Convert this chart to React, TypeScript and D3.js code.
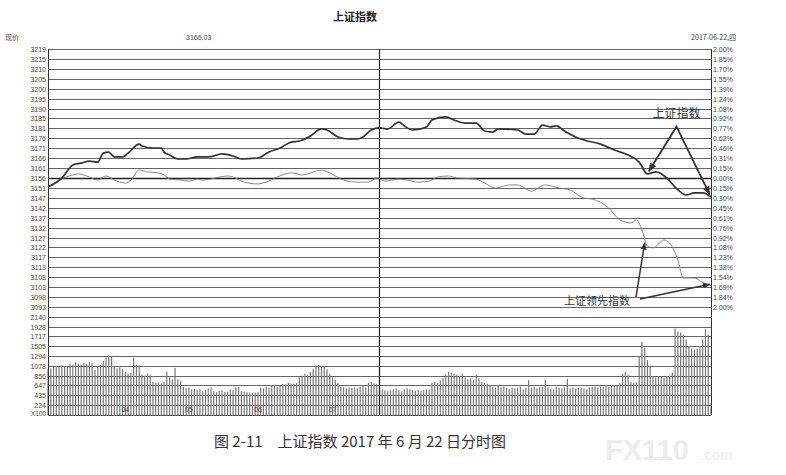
import React from "react";
import * as d3 from "d3";

// previous close, 2017-06-21
const basePrice = 3156.21;

const priceLabels = [
  "3219", "3215", "3210", "3205", "3200", "3195", "3190", "3185", "3181",
  "3176", "3171", "3166", "3161", "3156", "3151", "3147", "3142", "3137",
  "3132", "3127", "3122", "3117", "3113", "3108", "3103", "3098", "3093",
];
const pctLabels = [
  "2.00%", "1.85%", "1.70%", "1.55%", "1.39%", "1.24%", "1.08%", "0.92%", "0.77%",
  "0.62%", "0.46%", "0.31%", "0.15%", "0.00%", "0.15%", "0.30%", "0.45%", "0.61%",
  "0.76%", "0.92%", "1.08%", "1.23%", "1.38%", "1.54%", "1.69%", "1.84%", "2.00%",
];
const volLabels = [2140, 1928, 1717, 1505, 1294, 1078, 856, 647, 435, 224];
const timeLabels = [
  { minute: 28, text: "04" },
  { minute: 51, text: "05" },
  { minute: 76, text: "06" },
  { minute: 103, text: "07" },
];

// 上证指数
const sseMinutes = [
  0, 5, 9, 12, 15, 18, 20, 22, 24, 27, 29, 33, 34, 38, 41, 42, 44, 47, 50, 54,
  58, 63, 67, 70, 76, 80, 84, 88, 91, 95, 99, 101, 105, 109, 112, 114, 117, 120, 123, 127,
  129, 132, 137, 139, 144, 147, 151, 155, 158, 161, 163, 170, 173, 176, 179, 182, 184, 187, 191, 194,
  200, 205, 210, 214, 217, 220, 224, 227, 231, 234, 237, 240,
];
const sseValues = [
  3151.8, 3156.2, 3162.6, 3163.5, 3164.5, 3164.0, 3168.4, 3168.9, 3166.5, 3166.5,
  3168.4, 3172.8, 3171.9, 3170.9, 3170.9, 3168.9, 3167.5, 3165.5, 3165.5, 3166.5,
  3166.5, 3168.0, 3167.0, 3165.5, 3166.0, 3168.9, 3170.9, 3173.8, 3174.3, 3176.8,
  3180.2, 3179.7, 3176.3, 3175.3, 3175.3, 3176.3, 3179.7, 3180.7, 3180.2, 3183.6,
  3181.7, 3179.7, 3181.2, 3184.6, 3186.1, 3184.6, 3183.1, 3183.1, 3179.2, 3178.7,
  3180.2, 3179.7, 3177.7, 3177.7, 3182.1, 3181.2, 3181.7, 3179.2, 3176.3, 3174.8,
  3172.8, 3169.9, 3167.5, 3164.0, 3158.2, 3159.2, 3156.2, 3151.8, 3147.9, 3148.9,
  3148.9, 3146.9,
];

// 上证领先指数
const leadMinutes = [
  0, 4, 9, 11, 15, 18, 21, 24, 28, 30, 33, 36, 40, 42, 44, 48, 51, 54, 56, 65,
  67, 71, 76, 79, 83, 88, 92, 99, 102, 107, 112, 116, 119, 122, 127, 130, 134, 138, 141, 145,
  148, 155, 158, 162, 167, 170, 175, 180, 185, 189, 194, 197, 203, 207, 211, 213, 215, 217, 219, 223,
  225, 228, 230, 234, 236, 240,
];
const leadValues = [
  3151.8, 3155.2, 3157.7, 3158.2, 3156.7, 3155.2, 3157.2, 3155.2, 3153.8, 3155.2,
  3160.1, 3159.2, 3158.7, 3157.7, 3155.7, 3155.2, 3154.7, 3155.7, 3155.2, 3157.2,
  3156.7, 3154.2, 3153.3, 3154.2, 3156.7, 3158.7, 3157.7, 3160.1, 3158.7, 3155.2,
  3154.2, 3154.2, 3156.2, 3154.7, 3155.7, 3155.2, 3154.2, 3154.7, 3156.7, 3157.2,
  3156.2, 3155.7, 3153.8, 3151.3, 3152.8, 3152.8, 3149.8, 3152.8, 3151.3, 3150.3,
  3146.4, 3145.9, 3141.5, 3135.7, 3134.2, 3135.7, 3130.8, 3122.9, 3122.0, 3125.9,
  3124.4, 3116.1, 3107.3, 3107.3, 3105.8, 3103.4,
];

// volume per minute (x100)
const volume = [
  1000, 1020, 1050, 1040, 1060, 1080, 1050, 1070, 1120, 1100,
  1150, 1120, 1100, 1140, 1110, 1160, 1130, 980, 1050, 1100,
  1180, 1260, 1300, 1280, 1060, 1020, 1040, 1000, 940, 900,
  920, 1250, 1100, 1080, 880, 860, 900, 880, 720, 700,
  710, 690, 720, 950, 820, 780, 1030, 780, 740, 620,
  580, 600, 560, 570, 540, 560, 520, 550, 580, 600,
  520, 500, 530, 540, 500, 510, 560, 540, 600, 610,
  520, 510, 500, 490, 480, 490, 500, 600, 580, 620,
  600, 640, 660, 620, 650, 680, 670, 700, 690, 680,
  700, 820, 860, 900, 880, 940, 1000, 1080, 1100, 1060,
  1080, 1000, 900, 820, 760, 700, 620, 600, 580, 600,
  590, 600, 580, 620, 640, 600, 700, 720, 690, 680,
  1700, 560, 540, 520, 540, 560, 580, 540, 520, 560,
  580, 560, 540, 530, 550, 520, 540, 560, 560, 700,
  720, 700, 760, 800, 880, 940, 920, 900, 880, 860,
  900, 820, 780, 800, 760, 880, 800, 720, 700, 680,
  650, 620, 600, 640, 600, 620, 590, 560, 600, 580,
  600, 620, 560, 600, 760, 600, 620, 580, 600, 610,
  770, 600, 580, 560, 620, 600, 580, 600, 790, 580,
  600, 570, 590, 600, 580, 560, 600, 610, 620, 600,
  620, 610, 630, 620, 660, 650, 660, 700, 900, 940,
  880, 720, 700, 710, 1270, 1600, 1470, 1200, 1050, 830,
  820, 840, 830, 820, 840, 860, 920, 1890, 1820, 1800,
  1750, 1650, 1500, 1450, 1430, 1450, 1480, 1650, 1870, 1760,
  260,
];

const W = 786;
const H = 475;
const left = 48;
const right = 711;
const priceTop = 49;
const priceBottom = 307;
const volTop = 317;
const volBottom = 415;

const labelFont = "'Liberation Sans', Arial, sans-serif";
const cjkFont = "'Noto Sans CJK SC', sans-serif";

export default function App() {
  const x = d3.scaleLinear().domain([0, 240]).range([left, right]);
  const y = d3
    .scaleLinear()
    .domain([basePrice * 0.98, basePrice * 1.02])
    .range([priceBottom, priceTop]);
  const yVol = d3.scaleLinear().domain([0, 2140]).range([volBottom, volTop]);

  // gridline rows are spaced evenly between -2% and +2%
  const rowValue = (k: number) => basePrice * (1.02 - (k * 0.04) / 26);

  const indexLine = d3
    .line<[number, number]>()
    .x((d) => x(d[0]))
    .y((d) => y(d[1]))
    .curve(d3.curveMonotoneX);

  const ssePath = indexLine(sseMinutes.map((m, i) => [m, sseValues[i]]));
  const leadPath = indexLine(leadMinutes.map((m, i) => [m, leadValues[i]]));

  // annotation anchors on the data
  const sseApex = { x: x(227.5), y: y(3181.3) };
  const sseTipL = { x: x(217.5), y: y(3159.5) };
  const sseTipR = { x: x(239.5), y: y(3148.2) };
  const leadTipUp = { x: x(216), y: y(3124.5) };
  const leadTipR = { x: x(239.5), y: y(3104.2) };

  return (
    <svg
      width={W}
      height={H}
      style={{ position: "absolute", left: 0, top: 0, background: "#fff" }}
    >
      <defs>
        <marker
          id="arrow"
          viewBox="0 0 10 10"
          refX="9"
          refY="5"
          markerWidth="5"
          markerHeight="5"
          orient="auto-start-reverse"
        >
          <path d="M0,1 L10,5 L0,9 z" fill="#333" />
        </marker>
      </defs>

      {/* title and header */}
      <text
        x={355}
        y={21}
        textAnchor="middle"
        fontFamily={cjkFont}
        fontWeight="bold"
        fontSize={11}
        fill="#222"
      >
        上证指数
      </text>
      <text x={5} y={40} fontFamily={cjkFont} fontSize={7} fill="#444">
        现价
      </text>
      <text x={186} y={40} fontFamily={labelFont} fontSize={7} fill="#444">
        3166.03
      </text>
      <text x={736} y={40} textAnchor="end" fontFamily={cjkFont} fontSize={7} fill="#444">
        2017-06-22,四
      </text>

      {/* price grid */}
      {priceLabels.map((lab, k) => {
        const yy = Math.round(y(rowValue(k))) + 0.5;
        const zero = k === 13;
        return (
          <g key={"p" + k}>
            <line
              x1={left}
              x2={right}
              y1={yy}
              y2={yy}
              stroke={zero ? "#222" : "#666"}
              strokeWidth={zero ? 1.6 : 1}
            />
            <text
              x={46}
              y={yy + 2.5}
              textAnchor="end"
              fontFamily={labelFont}
              fontSize={7}
              fill="#444"
            >
              {lab}
            </text>
            <text x={713} y={yy + 2.5} fontFamily={labelFont} fontSize={7} fill="#444">
              {pctLabels[k]}
            </text>
          </g>
        );
      })}

      {/* volume grid */}
      {volLabels.map((v) => {
        const yy = Math.round(yVol(v)) + 0.5;
        return (
          <g key={"v" + v}>
            <line x1={left} x2={right} y1={yy} y2={yy} stroke="#666" strokeWidth={1} />
            <text
              x={46}
              y={yy + 2}
              textAnchor="end"
              fontFamily={labelFont}
              fontSize={7}
              fill="#444"
            >
              {v}
            </text>
          </g>
        );
      })}

      {/* volume bars */}
      {volume.map((v, i) => (
        <rect
          key={"b" + i}
          x={x(i) - 0.6}
          y={yVol(v)}
          width={1.2}
          height={volBottom - yVol(v)}
          fill="#777"
        />
      ))}

      {/* frame */}
      <line x1={left + 0.5} x2={left + 0.5} y1={priceTop} y2={volBottom} stroke="#333" />
      <line x1={right + 0.5} x2={right + 0.5} y1={priceTop} y2={volBottom} stroke="#333" />
      <line x1={x(120)} x2={x(120)} y1={priceTop} y2={volBottom} stroke="#222" strokeWidth={1.2} />
      <line x1={left} x2={right} y1={volBottom + 0.5} y2={volBottom + 0.5} stroke="#555" />

      {/* bottom labels */}
      <text x={46} y={416} textAnchor="end" fontFamily={labelFont} fontSize={6.5} fill="#444">
        X100
      </text>
      {timeLabels.map((t) => (
        <text
          key={t.text}
          x={x(t.minute)}
          y={412}
          textAnchor="middle"
          fontFamily={labelFont}
          fontSize={7}
          fill="#444"
        >
          {t.text}
        </text>
      ))}

      {/* index lines */}
      <path d={leadPath ?? ""} fill="none" stroke="#7a7a7a" strokeWidth={0.9} />
      <path d={ssePath ?? ""} fill="none" stroke="#333" strokeWidth={1.7} />

      {/* annotations */}
      <text
        x={sseApex.x}
        y={sseApex.y - 9}
        textAnchor="middle"
        fontFamily={cjkFont}
        fontSize={12}
        fill="#333"
      >
        上证指数
      </text>
      <polyline
        points={`${sseTipL.x},${sseTipL.y} ${sseApex.x},${sseApex.y} ${sseTipR.x},${sseTipR.y}`}
        fill="none"
        stroke="#333"
        strokeWidth={1.8}
        markerStart="url(#arrow)"
        markerEnd="url(#arrow)"
      />
      <line
        x1={636}
        y1={297}
        x2={leadTipUp.x}
        y2={leadTipUp.y}
        stroke="#333"
        strokeWidth={1.5}
        markerEnd="url(#arrow)"
      />
      <line
        x1={640}
        y1={299}
        x2={leadTipR.x}
        y2={leadTipR.y}
        stroke="#333"
        strokeWidth={1.5}
        markerEnd="url(#arrow)"
      />
      <text x={597} y={305} textAnchor="middle" fontFamily={cjkFont} fontSize={11} fill="#333">
        上证领先指数
      </text>

      {/* caption */}
      <text x={214} y={447} fontFamily={cjkFont} fontSize={15} fill="#333">
        图 2-11{"\u2002\u2002"}上证指数 2017 年 6 月 22 日分时图
      </text>

      {/* watermark */}
      <text x={605} y={460} fontFamily={labelFont} fontWeight="bold" fontSize={29} fill="#ececec">
        FX110
      </text>
      <text x={700} y={460} fontFamily={labelFont} fontSize={15} fill="#ececec">
        .com
      </text>
    </svg>
  );
}
